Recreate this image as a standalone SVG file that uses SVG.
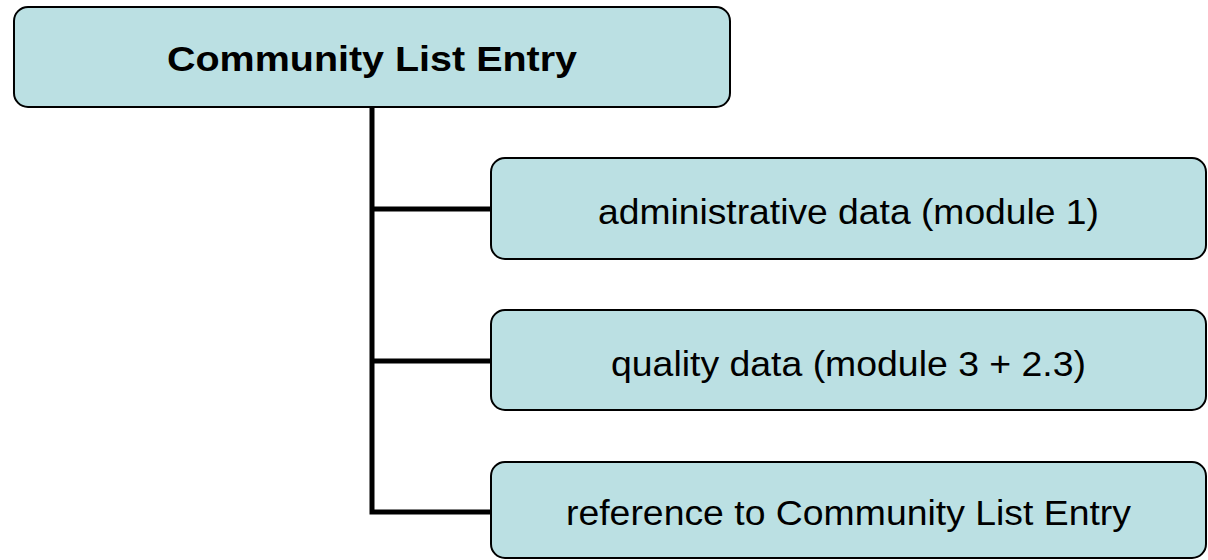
<svg xmlns="http://www.w3.org/2000/svg" width="1208" height="560" viewBox="0 0 1208 560">
<style>
.box{fill:#BBE0E3;stroke:#000;stroke-width:2}
.conn{fill:none;stroke:#000;stroke-width:5}
.title{font-family:"Liberation Sans",Arial,sans-serif;font-weight:bold;font-size:35px;fill:#000}
.lbl{font-family:"Liberation Sans",Arial,sans-serif;font-size:35px;fill:#000}
</style>
<rect width="1208" height="560" fill="#fff"/>
<g id="connectors">
<path class="conn" d="M372,107 V512 H491"/>
<path class="conn" d="M372,209 H491"/>
<path class="conn" d="M372,361 H491"/>
</g>
<g id="root">
<rect class="box" x="14" y="7" width="716" height="100" rx="14"/>
<text class="title" x="372" y="71" text-anchor="middle" textLength="410" lengthAdjust="spacingAndGlyphs">Community List Entry</text>
</g>
<g id="admin">
<rect class="box" x="491" y="158" width="715" height="101" rx="14"/>
<text class="lbl" x="848.5" y="224" text-anchor="middle" textLength="501" lengthAdjust="spacingAndGlyphs">administrative data (module 1)</text>
</g>
<g id="quality">
<rect class="box" x="491" y="310" width="715" height="100" rx="14"/>
<text class="lbl" x="848.5" y="376" text-anchor="middle" textLength="475" lengthAdjust="spacingAndGlyphs">quality data (module 3 + 2.3)</text>
</g>
<g id="reference">
<rect class="box" x="491" y="462" width="715" height="96" rx="14"/>
<text class="lbl" x="848.5" y="525" text-anchor="middle" textLength="565" lengthAdjust="spacingAndGlyphs">reference to Community List Entry</text>
</g>
</svg>
